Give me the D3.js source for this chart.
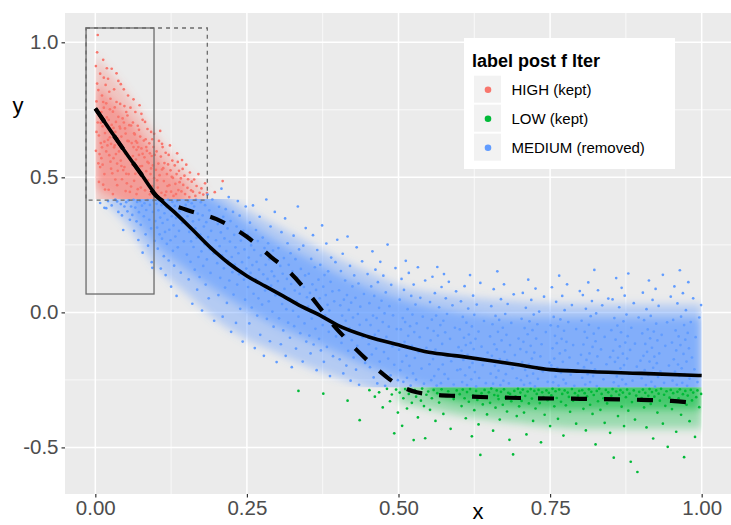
<!DOCTYPE html>
<html><head><meta charset="utf-8">
<script src="https://cdn.jsdelivr.net/npm/d3@7"></script>
<style>body{margin:0;background:#fff}svg{display:block}text{font-family:"Liberation Sans",Arial,Helvetica,sans-serif}</style>
</head><body><svg id="c" width="731" height="525"></svg>
<script>
// ---------- data ----------
const categories = ["HIGH (kept)", "LOW (kept)", "MEDIUM (removed)"];
const legendTitle = "label post f lter";
const xTicks = [0, 0.25, 0.5, 0.75, 1];
const xTickLabels = ["0.00", "0.25", "0.50", "0.75", "1.00"];
const yTicks = [-0.5, 0, 0.5, 1];
const yTickLabels = ["-0.5", "0.0", "0.5", "1.0"];

const highPts = [
[.001,.912],[.003,.847],[.002,.781],[.004,.703],[.006,.655],[.001,.598],[.005,.552],[.008,.884],[.007,.741],[.009,.627],[.011,.803],[.012,.689],[.010,.571],[.013,.935],[.014,.758],[.015,.512],[.016,.664],[.017,.842],[.018,.596],[.019,.722],[.003,.963],[.006,.483],[.008,.538],[.011,.611],[.013,.779],[.014,.869],[.016,.455],[.018,.774],[.002,.668],[.005,.823],[.009,.702],[.012,.547],[.015,.632],[.017,.701],[.019,.904],[.004,1.027],[.007,.586],[.010,.742],[.013,.473],[.020,.618],
[.021,.865],[.022,.713],[.023,.582],[.024,.648],[.025,.791],[.026,.532],[.027,.902],[.028,.667],[.029,.743],[.030,.571],[.031,.826],[.032,.618],[.033,.492],[.034,.705],[.035,.779],[.036,.551],[.037,.643],[.038,.857],[.039,.596],[.040,.688],[.022,.454],[.024,.752],[.026,.624],[.028,.515],[.030,.683],[.032,.759],[.034,.586],[.036,.471],[.038,.724],[.021,.639],[.023,.817],[.025,.558],[.027,.694],[.029,.438],[.031,.611],[.033,.668],[.035,.885],[.037,.524],
[.041,.772],[.042,.562],[.043,.651],[.044,.493],[.045,.718],[.046,.604],[.047,.826],[.048,.538],[.049,.681],[.050,.449],[.051,.742],[.052,.589],[.053,.635],[.054,.803],[.055,.512],[.056,.693],[.057,.571],[.058,.758],[.059,.466],[.060,.627],[.041,.681],[.043,.542],[.045,.612],[.047,.703],[.049,.588],[.051,.513],[.053,.729],[.055,.634],[.057,.446],[.059,.692],[.042,.845],[.044,.613],[.046,.527],[.048,.764],[.050,.662],[.052,.478],
[.061,.548],[.062,.703],[.063,.612],[.064,.487],[.065,.659],[.066,.742],[.067,.566],[.068,.438],[.069,.628],[.070,.691],[.071,.524],[.072,.583],[.073,.767],[.074,.651],[.075,.462],[.076,.607],[.077,.542],[.078,.713],[.079,.497],[.080,.636],[.062,.579],[.064,.663],[.066,.513],[.068,.602],[.070,.456],[.072,.676],[.074,.541],[.076,.735],[.078,.587],[.063,.789],[.067,.634],[.071,.612],
[.081,.574],[.082,.452],[.083,.641],[.084,.523],[.085,.598],[.086,.679],[.087,.489],[.088,.553],[.089,.626],[.090,.437],[.091,.512],[.092,.668],[.093,.579],[.094,.468],[.095,.544],[.096,.612],[.097,.497],[.098,.583],[.099,.442],[.100,.528],[.082,.705],[.084,.612],[.086,.557],[.088,.471],[.090,.589],[.092,.533],[.094,.641],[.097,.661],
[.101,.596],[.103,.462],[.104,.551],[.105,.635],[.106,.508],[.108,.577],[.109,.443],[.110,.529],[.111,.612],[.113,.486],[.114,.553],[.115,.434],[.116,.591],[.118,.512],[.119,.468],[.120,.548],[.102,.489],[.107,.672],[.112,.534],[.117,.447],[.104,.428],[.110,.624],
[.121,.583],[.122,.471],[.124,.526],[.125,.447],[.127,.562],[.128,.498],[.129,.431],[.131,.544],[.132,.476],[.134,.512],[.135,.589],[.137,.453],[.138,.524],[.139,.482],[.123,.618],[.126,.502],[.133,.438],[.136,.557],
[.141,.496],[.142,.448],[.144,.531],[.145,.472],[.147,.506],[.148,.438],[.150,.547],[.152,.461],[.153,.493],[.155,.427],[.156,.518],[.158,.452],[.143,.564],[.159,.484],
[.161,.447],[.163,.492],[.165,.431],[.167,.468],[.170,.512],[.172,.443],[.175,.459],[.178,.436],[.181,.478],[.184,.442],[.197,.445],[.210,.486]
];

const lowPts = [
[.335,-.291],[.376,-.301],[.416,-.327],[.436,-.399],[.452,-.288],[.461,-.312],[.468,-.296],[.474,-.352],[.481,-.283],[.486,-.329],[.489,-.304],[.493,-.448],[.496,-.286],[.499,-.371],
[.502,-.297],[.506,-.42],[.508,-.318],[.511,-.284],[.514,-.356],[.517,-.302],[.519,-.291],[.522,-.335],[.525,-.473],[.527,-.288],[.529,-.312],[.532,-.389],[.534,-.296],[.537,-.327],[.539,-.282],[.542,-.347],[.544,-.466],[.546,-.305],[.549,-.293],[.552,-.361],[.555,-.318],[.558,-.287],[.561,-.402],[.564,-.299],[.567,-.334],[.571,-.285],[.574,-.376],[.578,-.309],[.582,-.292],[.586,-.431],[.591,-.321],[.596,-.289],
[.601,-.303],[.604,-.347],[.606,-.286],[.609,-.318],[.611,-.392],[.613,-.295],[.616,-.331],[.618,-.284],[.621,-.459],[.623,-.307],[.625,-.362],[.628,-.291],[.630,-.324],[.632,-.415],[.635,-.528],[.637,-.299],[.639,-.341],[.642,-.287],[.644,-.313],[.646,-.378],[.649,-.296],[.651,-.335],[.653,-.282],[.656,-.438],[.658,-.306],[.660,-.353],[.662,-.289],[.665,-.321],[.667,-.397],[.669,-.294],[.672,-.342],[.674,-.285],[.676,-.316],[.679,-.367],[.681,-.298],[.683,-.472],[.686,-.329],[.689,-.526],[.691,-.291],[.693,-.311],[.695,-.384],[.697,-.283],[.699,-.348],[.684,-.302],[.664,-.309],
[.701,-.297],[.703,-.328],[.705,-.286],[.707,-.371],[.709,-.309],[.711,-.452],[.713,-.293],[.715,-.337],[.718,-.284],[.720,-.319],[.722,-.402],[.724,-.291],[.726,-.356],[.728,-.302],[.731,-.287],[.733,-.336],[.735,-.481],[.737,-.296],[.739,-.314],[.741,-.379],[.744,-.289],[.746,-.325],[.748,-.298],[.750,-.421],[.752,-.307],[.754,-.283],[.757,-.348],[.759,-.292],[.761,-.317],[.763,-.394],[.765,-.286],[.768,-.331],[.770,-.302],[.772,-.456],[.774,-.289],[.776,-.344],[.779,-.297],[.781,-.313],[.783,-.368],[.786,-.284],[.788,-.327],[.791,-.299],[.793,-.412],[.796,-.308],[.798,-.291],
[.801,-.321],[.803,-.288],[.805,-.357],[.807,-.299],[.809,-.437],[.811,-.311],[.814,-.285],[.816,-.342],[.818,-.294],[.820,-.376],[.822,-.306],[.825,-.489],[.827,-.291],[.829,-.329],[.831,-.283],[.833,-.361],[.835,-.302],[.838,-.318],[.840,-.409],[.842,-.287],[.844,-.337],[.846,-.296],[.849,-.446],[.851,-.309],[.853,-.284],[.855,-.538],[.857,-.323],[.859,-.293],[.862,-.384],[.864,-.305],[.866,-.288],[.868,-.349],[.870,-.297],[.872,-.421],[.875,-.314],[.877,-.286],[.879,-.364],[.881,-.301],[.883,-.553],[.885,-.332],[.888,-.289],[.890,-.397],[.892,-.308],[.894,-.591],[.897,-.294],
[.901,-.317],[.903,-.286],[.905,-.352],[.907,-.298],[.909,-.426],[.912,-.309],[.914,-.284],[.916,-.339],[.918,-.295],[.920,-.467],[.922,-.312],[.925,-.289],[.927,-.371],[.929,-.301],[.931,-.327],[.933,-.283],[.936,-.412],[.938,-.305],[.940,-.346],[.942,-.292],[.944,-.498],[.947,-.316],[.949,-.287],[.951,-.358],[.953,-.299],[.955,-.331],[.958,-.442],[.960,-.294],[.962,-.318],[.964,-.285],[.966,-.379],[.969,-.303],[.971,-.536],[.973,-.291],[.975,-.342],[.977,-.308],[.980,-.403],[.982,-.287],[.984,-.326],[.986,-.297],[.989,-.461],[.991,-.314],[.993,-.289],[.996,-.351],[.999,-.302]
];

const mediumPts = [
[.008,.405],[.015,.387],[.021,.412],[.027,.396],[.033,.418],[.038,.372],[.042,.401],[.046,.305],[.018,.386],[.036,.411],[.044,.359],[.048,.392],
[.051,.408],[.053,.374],[.055,.415],[.057,.343],[.059,.392],[.061,.361],[.063,.417],[.064,.302],[.066,.388],[.068,.337],[.069,.409],[.071,.268],[.072,.371],[.074,.412],[.075,.324],[.077,.395],[.078,.221],[.080,.356],[.081,.404],[.083,.289],[.084,.379],[.086,.416],[.087,.247],[.089,.343],[.090,.398],[.092,.311],[.093,.186],[.095,.372],[.096,.414],[.098,.265],[.099,.338],[.094,.165],
[.101,.402],[.102,.314],[.103,.236],[.104,.378],[.105,.415],[.106,.289],[.107,.351],[.108,.162],[.109,.397],[.110,.273],[.111,.331],[.112,.412],[.113,.208],[.114,.367],[.115,.298],[.116,.138],[.117,.389],[.118,.254],[.119,.343],[.120,.417],[.121,.192],[.122,.306],[.123,.381],[.124,.267],[.125,.095],[.126,.356],[.127,.409],[.128,.228],[.129,.322],[.130,.173],[.131,.394],[.132,.281],[.133,.349],[.134,.061],[.135,.412],[.136,.241],[.138,.302],[.139,.374],[.141,.147],[.143,.331],[.146,.263],[.149,.398],
[.151,.214],[.152,.356],[.153,.411],[.154,.122],[.155,.298],[.156,.381],[.157,.187],[.158,.263],[.159,.404],[.160,.032],[.161,.337],[.162,.242],[.163,.392],[.164,.158],[.165,.311],[.166,.417],[.167,.276],[.168,.084],[.169,.366],[.170,.205],[.171,.343],[.172,.131],[.173,.288],[.174,.408],[.175,.226],[.176,.007],[.177,.359],[.178,.172],[.179,.318],[.180,.252],[.181,.397],[.182,.103],[.183,.334],[.184,.196],[.185,.436],[.186,.279],[.187,.052],[.188,.378],[.189,.234],[.190,.146],[.191,.302],[.193,.418],[.195,.218],[.196,-.031],[.198,.348],[.199,.267],
[.201,.182],[.202,.327],[.203,.064],[.204,.391],[.205,.245],[.206,.128],[.207,.296],[.208,.458],[.209,.211],[.210,-.016],[.211,.354],[.212,.163],[.213,.274],[.214,.092],[.215,.382],[.216,.227],[.217,.035],[.218,.311],[.219,.191],[.220,.427],[.221,.118],[.222,.262],[.223,.338],[.224,-.072],[.225,.205],[.226,.149],[.227,.372],[.228,.066],[.229,.287],[.230,.177],[.231,.241],[.232,-.039],[.233,.318],[.234,.103],[.235,.412],[.236,.219],[.237,.141],[.238,.358],[.239,.013],[.240,.266],[.242,.186],[.243,-.108],[.244,.302],[.245,.121],[.246,.233],[.247,.047],[.248,.392],[.249,.162],
[.251,.287],[.252,.094],[.253,.203],[.254,-.041],[.255,.332],[.256,.146],[.257,.248],[.258,.018],[.259,.175],[.260,.396],[.261,.069],[.262,.231],[.263,-.132],[.264,.123],[.265,.305],[.266,.187],[.267,-.012],[.268,.264],[.269,.052],[.270,.158],[.271,.354],[.272,-.083],[.273,.211],[.274,.106],[.275,.029],[.276,.277],[.277,.141],[.278,-.161],[.279,.238],[.280,.081],[.281,.176],[.282,.418],[.283,-.024],[.284,.124],[.285,.256],[.286,.041],[.287,.197],[.288,-.107],[.289,.318],[.290,.099],[.291,.152],[.292,.003],[.293,.229],[.294,-.053],[.295,.134],[.296,.372],[.297,.063],[.299,-.184],
[.301,.116],[.302,.238],[.303,-.022],[.304,.064],[.305,.172],[.306,-.118],[.307,.297],[.308,.031],[.309,.143],[.310,-.067],[.311,.201],[.312,.087],[.313,.348],[.314,-.161],[.315,.012],[.316,.124],[.317,.256],[.318,-.038],[.319,.176],[.320,.053],[.321,-.094],[.322,.219],[.323,.105],[.324,-.203],[.325,.152],[.326,.006],[.327,.284],[.328,-.051],[.329,.081],[.330,.197],[.331,-.134],[.332,.041],[.333,.128],[.334,.392],[.335,-.016],[.336,.233],[.337,.069],[.338,-.077],[.339,.161],[.340,.018],[.342,-.182],[.343,.247],[.344,.094],[.345,-.041],[.346,.137],[.347,.312],[.348,-.108],[.349,.056],
[.351,.021],[.352,.143],[.353,-.086],[.354,.072],[.355,-.152],[.356,.198],[.357,-.023],[.358,.104],[.359,.286],[.360,-.119],[.361,.037],[.362,.167],[.363,-.061],[.364,.083],[.365,-.214],[.366,.231],[.367,-.004],[.368,.121],[.369,-.098],[.370,.052],[.371,.176],[.372,-.141],[.373,.014],[.374,.322],[.375,-.047],[.376,.095],[.377,-.183],[.378,.138],[.379,-.011],[.380,.064],[.381,.255],[.382,-.128],[.383,.028],[.384,.152],[.385,-.072],[.386,.007],[.387,-.236],[.388,.113],[.389,.203],[.390,-.034],[.391,.078],[.392,-.162],[.394,.041],[.396,.186],[.397,-.089],[.399,.269],
[.401,-.061],[.402,.082],[.403,-.174],[.404,.026],[.405,.153],[.406,-.113],[.407,-.012],[.408,.217],[.409,-.226],[.410,.047],[.411,-.084],[.412,.118],[.413,-.031],[.414,-.197],[.415,.064],[.416,.281],[.417,-.142],[.418,.009],[.419,-.058],[.420,.172],[.421,-.253],[.422,.036],[.423,-.103],[.424,.096],[.425,-.019],[.426,-.167],[.427,.137],[.428,-.071],[.429,.054],[.430,-.212],[.431,.241],[.432,-.124],[.433,-.006],[.434,.107],[.435,-.268],[.436,-.046],[.437,.021],[.438,-.151],[.440,.189],[.441,-.092],[.443,.068],[.445,-.187],[.447,-.028],[.449,.142],
[.451,-.118],[.452,.034],[.453,-.203],[.454,-.047],[.455,.096],[.456,-.156],[.457,.226],[.458,-.012],[.459,-.241],[.460,.061],[.461,-.083],[.462,.158],[.463,-.134],[.464,-.021],[.465,-.263],[.466,.112],[.467,-.068],[.468,.017],[.469,-.182],[.470,.187],[.471,-.106],[.472,.043],[.473,-.221],[.474,-.036],[.475,.136],[.476,-.147],[.477,-.004],[.478,-.272],[.479,.074],[.480,-.091],[.482,.251],[.483,-.171],[.484,-.053],[.485,.023],[.487,-.233],[.488,.102],[.490,-.126],[.491,-.011],[.493,-.194],[.495,.164],[.497,-.062],[.499,-.251],
[.501,-.138],[.502,.047],[.503,-.214],[.504,-.063],[.505,.124],[.506,-.182],[.507,-.021],[.508,-.257],[.509,.083],[.510,-.109],[.511,-.036],[.512,.191],[.513,-.161],[.514,-.242],[.515,.012],[.516,-.087],[.517,.146],[.518,-.198],[.519,-.051],[.520,-.271],[.521,.061],[.522,-.124],[.523,-.008],[.524,-.226],[.525,.103],[.526,-.073],[.527,-.169],[.528,.029],[.529,-.249],[.530,-.041],[.532,.167],[.533,-.147],[.535,-.092],[.536,.054],[.538,-.208],[.540,-.016],[.542,-.264],[.544,.118],[.546,-.131],[.548,-.058],
[.551,-.192],[.552,.038],[.553,-.104],[.554,-.251],[.555,-.027],[.556,.132],[.557,-.173],[.558,-.069],[.559,-.236],[.560,.071],[.561,-.138],[.562,-.012],[.563,-.271],[.564,.168],[.565,-.086],[.566,-.211],[.567,.019],[.568,-.152],[.569,-.047],[.570,-.262],[.571,.094],[.572,-.117],[.573,-.193],[.574,-.031],[.575,.142],[.576,-.229],[.577,-.074],[.578,.052],[.579,-.158],[.580,-.006],[.582,-.246],[.583,.113],[.585,-.098],[.587,-.181],[.589,.026],[.591,-.267],[.593,-.057],[.595,.078],[.597,-.214],[.599,-.129],
[.601,-.063],[.602,-.211],[.603,.041],[.604,-.142],[.605,-.258],[.606,-.017],[.607,-.176],[.608,-.094],[.609,.097],[.610,-.233],[.611,-.121],[.612,-.038],[.613,-.269],[.614,-.157],[.615,.014],[.616,-.082],[.617,-.204],[.618,.138],[.619,-.113],[.620,-.248],[.621,-.052],[.622,-.187],[.623,.062],[.624,-.136],[.625,-.009],[.626,-.221],[.627,-.098],[.628,-.274],[.629,.029],[.630,-.168],[.632,-.071],[.633,-.243],[.635,.109],[.637,-.127],[.639,-.195],[.641,-.032],[.644,-.262],[.647,-.149],
[.651,-.089],[.652,-.227],[.653,.023],[.654,-.161],[.655,-.044],[.656,-.264],[.657,.086],[.658,-.118],[.659,-.198],[.660,-.013],[.661,-.241],[.662,-.137],[.663,.152],[.664,-.072],[.665,-.216],[.666,-.028],[.667,-.173],[.668,-.269],[.669,.049],[.670,-.104],[.671,-.189],[.672,-.057],[.673,-.253],[.674,.104],[.675,-.146],[.676,-.006],[.677,-.229],[.678,-.083],[.679,-.177],[.680,.031],[.682,-.263],[.684,-.121],[.686,-.039],[.688,-.207],[.690,.067],[.692,-.158],[.695,-.244],[.698,-.097],
[.701,-.136],[.702,-.251],[.703,-.024],[.704,-.184],[.705,.072],[.706,-.109],[.707,-.268],[.708,-.058],[.709,-.213],[.710,.017],[.711,-.147],[.712,-.235],[.713,-.081],[.714,.121],[.715,-.192],[.716,-.033],[.717,-.262],[.718,-.124],[.719,.046],[.720,-.171],[.721,-.066],[.722,-.227],[.723,-.008],[.724,-.149],[.725,-.274],[.726,.088],[.727,-.097],[.728,-.201],[.729,-.044],[.730,-.246],[.732,.003],[.734,-.163],[.736,-.118],[.738,-.219],[.740,.058],[.743,-.073],[.746,-.257],[.749,-.186],
[.751,-.048],[.752,-.196],[.753,.093],[.754,-.133],[.755,-.259],[.756,-.017],[.757,-.171],[.758,-.087],[.759,-.238],[.760,.039],[.761,-.114],[.762,-.206],[.763,-.052],[.764,-.271],[.765,.136],[.766,-.152],[.767,-.026],[.768,-.224],[.769,-.098],[.770,.061],[.771,-.183],[.772,-.249],[.773,-.068],[.774,.008],[.775,-.141],[.776,-.263],[.777,-.109],[.778,.104],[.779,-.213],[.780,-.036],[.782,-.167],[.784,-.231],[.786,.027],[.788,-.121],[.790,-.272],[.793,-.062],[.796,-.189],[.799,.079],
[.801,-.157],[.802,-.031],[.803,-.242],[.804,.064],[.805,-.119],[.806,-.203],[.807,-.072],[.808,-.267],[.809,.013],[.810,-.176],[.811,-.094],[.812,-.229],[.813,.111],[.814,-.046],[.815,-.152],[.816,-.258],[.817,-.014],[.818,-.187],[.819,.042],[.820,-.128],[.821,-.236],[.822,-.079],[.823,.157],[.824,-.211],[.825,-.107],[.826,-.004],[.827,-.273],[.828,-.163],[.829,.082],[.830,-.058],[.832,-.219],[.834,-.137],[.836,.026],[.838,-.248],[.840,-.091],[.843,-.192],[.846,.051],[.849,-.166],
[.851,-.066],[.852,-.224],[.853,.048],[.854,-.142],[.855,-.259],[.856,-.021],[.857,-.183],[.858,-.101],[.859,.127],[.860,-.237],[.861,-.049],[.862,-.168],[.863,-.273],[.864,.019],[.865,-.126],[.866,-.207],[.867,-.074],[.868,.091],[.869,-.249],[.870,-.153],[.871,-.033],[.872,-.195],[.873,.062],[.874,-.112],[.875,-.266],[.876,-.008],[.877,-.171],[.878,-.088],[.879,.144],[.880,-.228],[.882,-.139],[.884,-.057],[.886,-.253],[.888,.034],[.890,-.116],[.893,-.201],[.896,-.019],[.899,-.179],
[.901,-.244],[.902,-.078],[.903,.073],[.904,-.161],[.905,-.029],[.906,-.214],[.907,-.117],[.908,-.269],[.909,.012],[.910,-.146],[.911,-.063],[.912,-.232],[.913,.118],[.914,-.182],[.915,-.096],[.916,-.013],[.917,-.257],[.918,-.131],[.919,.046],[.920,-.205],[.921,-.071],[.922,-.164],[.923,-.275],[.924,.087],[.925,-.042],[.926,-.188],[.927,-.104],[.928,-.239],[.929,.024],[.930,-.152],[.932,-.218],[.934,-.083],[.936,.139],[.938,-.261],[.940,-.124],[.943,-.037],[.946,-.197],[.949,.058],
[.951,-.112],[.952,-.253],[.953,-.028],[.954,-.174],[.955,.096],[.956,-.219],[.957,-.067],[.958,-.141],[.959,-.268],[.960,.033],[.961,-.193],[.962,-.089],[.963,-.236],[.964,.156],[.965,-.121],[.966,-.016],[.967,-.207],[.968,-.261],[.969,.071],[.970,-.154],[.971,-.047],[.972,-.229],[.973,-.101],[.974,.008],[.975,-.182],[.976,-.272],[.977,-.076],[.978,.112],[.979,-.133],[.980,-.245],[.982,-.036],[.984,-.167],[.986,.052],[.988,-.211],[.990,-.092],[.993,-.258],[.996,-.019],[.999,.027]
];

// dense cores of each point cloud, where points overlap almost completely (outer and inner envelopes)
const mediumOuterX  = [.02, .05, .1, .15, .2, .25, .3, .35, .4, .45, .5, .6, .7, .8, .9, 1.0];
const mediumOuterLo = [.40, .33, .17, .07, -.03, -.1, -.15, -.2, -.24, -.28, -.32, -.32, -.32, -.32, -.32, -.32];
const mediumOuterHi = [.47, .47, .47, .47, .45, .38, .32, .26, .2, .15, .1, .06, .04, .03, .03, .03];
const mediumInnerX  = [.06, .1, .15, .2, .25, .3, .35, .4, .45, .5, .55, .6, .7, .8, .9, 1.0];
const mediumInnerLo = [.37, .25, .16, .08, .01, -.05, -.1, -.15, -.2, -.24, -.28, -.31, -.31, -.31, -.31, -.31];
const mediumInnerHi = [.46, .46, .46, .41, .33, .26, .2, .14, .09, .05, .02, 0, -.02, -.02, -.02, -.02];
const highOuterX  = [0, .02, .05, .08, .1, .12, .15, .18];
const highOuterLo = [.37, .37, .37, .37, .37, .37, .37, .37];
const highOuterHi = [.95, .9, .82, .72, .66, .6, .52, .46];
const highInnerX  = [0, .02, .05, .08, .1, .12, .15];
const highInnerLo = [.46, .44, .4, .39, .39, .39, .39];
const highInnerHi = [.85, .8, .73, .64, .58, .53, .47];
const lowOuterX  = [.5, .6, .7, .8, .9, 1.0];
const lowOuterLo = [-.33, -.38, -.41, -.43, -.43, -.43];
const lowOuterHi = [-.24, -.24, -.24, -.24, -.24, -.24];
const lowInnerX  = [.55, .6, .7, .8, .9, 1.0];
const lowInnerLo = [-.3, -.33, -.35, -.36, -.36, -.36];
const lowInnerHi = [-.25, -.25, -.25, -.25, -.25, -.25];

// smoothed trend (solid) and trend after filtering (dashed)
const smoothX = [0,.025,.05,.075,.1,.13,.16,.19,.22,.25,.28,.31,.34,.37,.4,.45,.5,.55,.6,.65,.7,.75,.8,.9,1.0];
const smoothY = [.755,.673,.592,.514,.435,.372,.307,.24,.182,.135,.097,.06,.022,-.01,-.048,-.09,-.12,-.148,-.162,-.178,-.195,-.212,-.218,-.226,-.234];
const filtX = [0,.025,.05,.075,.1,.15,.2,.25,.29,.32,.35,.37,.39,.41,.43,.45,.47,.49,.51,.53,.55,.6,.7,.8,.9,.95,1.0];
const filtY = [.755,.673,.592,.514,.432,.38,.345,.28,.205,.15,.075,.018,-.04,-.09,-.137,-.18,-.22,-.255,-.28,-.296,-.303,-.31,-.317,-.32,-.324,-.328,-.338];

// annotation boxes in data units: [xmin, xmax, ymin, ymax]
const boxSolid = [-0.0153, 0.0968, 0.068, 1.053];
const boxDashed = [-0.0153, 0.1847, 0.416, 1.053];
// class cut levels visible in the cloud
const highCut = 0.42, lowCut = -0.277;

// ---------- drawing ----------
const colors = ["#F8766D", "#00BA38", "#619CFF"];
const P = {l: 65, r: 732, t: 13, b: 494};
const svg = d3.select("#c");

const x = d3.scaleLinear().domain([-0.05, 1.05]).range([P.l, P.r]);
const y = d3.scaleLinear().domain([-0.6725, 1.1085]).range([P.b, P.t]);

const defs = svg.append("defs");
defs.append("filter").attr("id", "soft").attr("filterUnits", "userSpaceOnUse")
  .attr("x", 0).attr("y", 0).attr("width", 731).attr("height", 525)
  .append("feGaussianBlur").attr("stdDeviation", 4);
function clip(id, x0, x1, y0, y1) {
  defs.append("clipPath").attr("id", id).append("rect")
    .attr("x", x(x0)).attr("width", x(x1) - x(x0)).attr("y", y(y1)).attr("height", y(y0) - y(y1));
}
clip("cHigh", 0, 0.25, highCut, 1.1);
clip("cLow", -0.05, 1.0, -0.7, lowCut);
clip("cMed", -0.05, 1.0, lowCut, highCut);

svg.append("rect").attr("x", P.l).attr("y", P.t).attr("width", P.r - P.l).attr("height", P.b - P.t).attr("fill", "#EBEBEB");

const xMinor = [0.125, 0.375, 0.625, 0.875];
const yMinor = [-0.25, 0.25, 0.75];
const grid = svg.append("g");
grid.selectAll(".xm").data(xMinor).join("line").attr("x1", d => x(d)).attr("x2", d => x(d)).attr("y1", P.t).attr("y2", P.b).attr("stroke", "#fff").attr("stroke-width", 0.7);
grid.selectAll(".ym").data(yMinor).join("line").attr("y1", d => y(d)).attr("y2", d => y(d)).attr("x1", P.l).attr("x2", P.r).attr("stroke", "#fff").attr("stroke-width", 0.7);
grid.selectAll(".xM").data(xTicks).join("line").attr("x1", d => x(d)).attr("x2", d => x(d)).attr("y1", P.t).attr("y2", P.b).attr("stroke", "#fff").attr("stroke-width", 1.5);
grid.selectAll(".yM").data(yTicks).join("line").attr("y1", d => y(d)).attr("y2", d => y(d)).attr("x1", P.l).attr("x2", P.r).attr("stroke", "#fff").attr("stroke-width", 1.5);

// dense cores of the clouds (softened, cut at the class limits)
const area = d3.area().x(d => x(d[0])).y0(d => y(d[1])).y1(d => y(d[2])).curve(d3.curveMonotoneX);
function core(clipId, layers) {
  const g = svg.append("g").attr("clip-path", `url(#${clipId})`).append("g").attr("filter", "url(#soft)");
  layers.forEach(([xs, lo, hi, col, op]) => {
    g.append("path").attr("d", area(xs.map((v, i) => [v, lo[i], hi[i]]))).attr("fill", col).attr("fill-opacity", op);
  });
}
core("cHigh", [[highOuterX, highOuterLo, highOuterHi, colors[0], 0.32], [highInnerX, highInnerLo, highInnerHi, colors[0], 0.5]]);
core("cLow", [[lowOuterX, lowOuterLo, lowOuterHi, colors[1], 0.35], [lowInnerX, lowInnerLo, lowInnerHi, colors[1], 0.55]]);
core("cMed", [[mediumOuterX, mediumOuterLo, mediumOuterHi, colors[2], 0.4], [mediumInnerX, mediumInnerLo, mediumInnerHi, colors[2], 0.6]]);

// points
const series = [highPts, lowPts, mediumPts];
const ptsG = svg.append("g");
series.forEach((pts, i) => {
  ptsG.append("g").selectAll("circle").data(pts).join("circle")
    .attr("cx", d => x(d[0])).attr("cy", d => y(d[1])).attr("r", 1.35).attr("fill", colors[i]);
});

// annotation boxes
function box(b, dashed) {
  svg.append("rect").attr("x", x(b[0])).attr("y", y(b[3])).attr("width", x(b[1]) - x(b[0])).attr("height", y(b[2]) - y(b[3]))
    .attr("fill", "none").attr("stroke", "#6b6b6b").attr("stroke-width", 1.3)
    .attr("stroke-dasharray", dashed ? "4,4" : null);
}
box(boxDashed, true);
box(boxSolid, false);

// lines
const line = d3.line().x(d => x(d[0])).y(d => y(d[1])).curve(d3.curveMonotoneX);
svg.append("path").attr("d", line(smoothX.map((v, i) => [v, smoothY[i]]))).attr("fill", "none").attr("stroke", "#000").attr("stroke-width", 3.6);
svg.append("path").attr("d", line(filtX.map((v, i) => [v, filtY[i]]))).attr("fill", "none").attr("stroke", "#000").attr("stroke-width", 4.2).attr("stroke-dasharray", "16,17");

// axes
const xAxis = d3.axisBottom(x).tickValues(xTicks).tickFormat((d, i) => xTickLabels[i]).tickSize(3.5).tickPadding(3);
const gx = svg.append("g").attr("transform", `translate(0,${P.b})`).call(xAxis);
gx.select(".domain").remove();
gx.selectAll("line").attr("stroke", "#333").attr("stroke-width", 1.2);
gx.selectAll("text").attr("fill", "#4D4D4D").attr("font-size", 20.5).attr("font-family", "Liberation Sans, Arial, sans-serif");

const yAxis = d3.axisLeft(y).tickValues(yTicks).tickFormat((d, i) => yTickLabels[i]).tickSize(3.5).tickPadding(3);
const gy = svg.append("g").attr("transform", `translate(${P.l},0)`).call(yAxis);
gy.select(".domain").remove();
gy.selectAll("line").attr("stroke", "#333").attr("stroke-width", 1.2);
gy.selectAll("text").attr("fill", "#4D4D4D").attr("font-size", 20.5).attr("font-family", "Liberation Sans, Arial, sans-serif");

svg.append("text").attr("x", 478).attr("y", 519).attr("text-anchor", "middle").attr("font-size", 22).attr("fill", "#000").text("x");
svg.append("text").attr("x", 18).attr("y", 113).attr("text-anchor", "middle").attr("font-size", 22).attr("fill", "#000").text("y");

// legend
const lg = svg.append("g");
lg.append("rect").attr("x", 464).attr("y", 38).attr("width", 211).attr("height", 131).attr("fill", "#fff");
lg.append("text").attr("x", 472).attr("y", 67).attr("font-size", 18).attr("font-weight", "bold").attr("fill", "#000").text(legendTitle);
const rows = lg.selectAll(".row").data(categories).join("g").attr("transform", (d, i) => `translate(474,${75.7 + i * 29})`);
rows.append("rect").attr("width", 27).attr("height", 27).attr("fill", "#F2F2F2");
rows.append("circle").attr("cx", 14).attr("cy", 14).attr("r", 3.3).attr("fill", (d, i) => colors[i]);
rows.append("text").attr("x", 37.5).attr("y", 14).attr("dy", "0.35em").attr("font-size", 15).attr("fill", "#000").text(d => d);
</script></body></html>
